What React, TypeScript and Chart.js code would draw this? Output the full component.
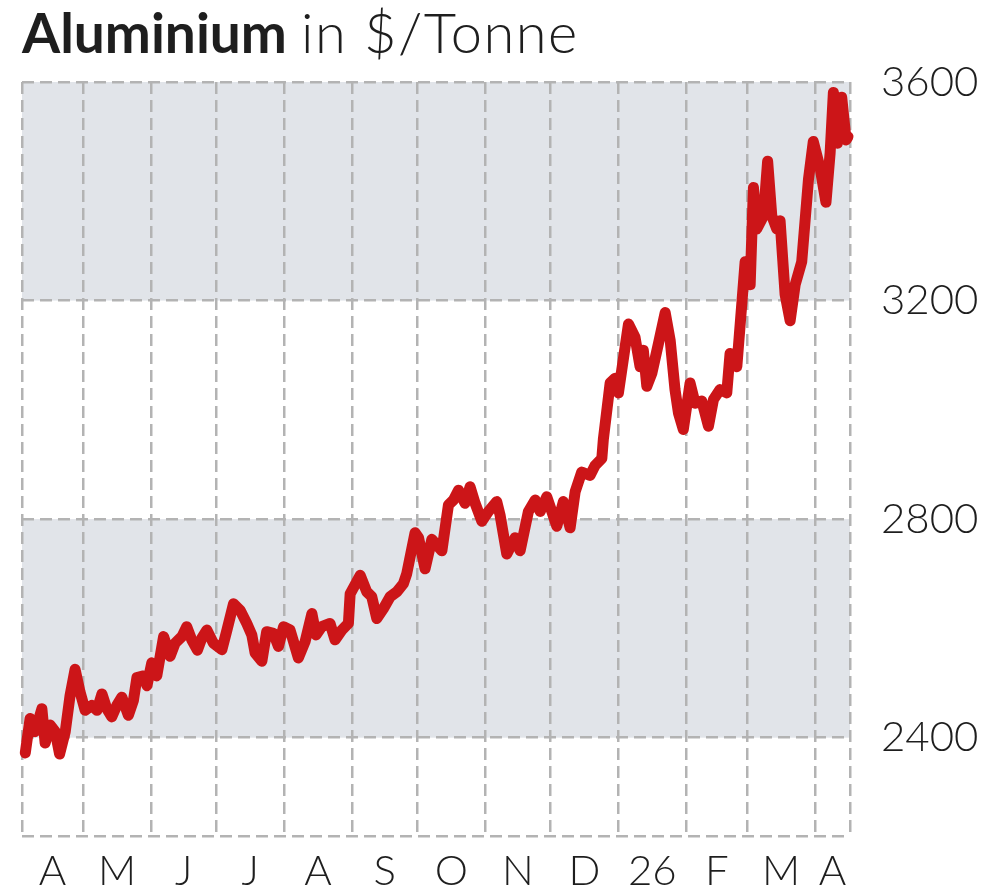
import React, { useEffect, useRef } from 'react';
import { Chart, registerables } from 'chart.js';

Chart.register(...registerables);

// x = days since 1 Apr 2025
const days = [
  3.5, 5.7, 8, 11.1, 12.6, 14.9, 17.2, 19.2, 21.8, 24, 26.3, 28.6, 30.9, 34, 36.3, 38.6,
  40.8, 43.1, 45.4, 47.7, 50.7, 53, 54.6, 57.6, 59.2, 61.4, 63.7, 66.8, 69.8, 72.1, 75.2,
  77.4, 79.7, 82.3, 84.3, 86.6, 89.6, 93.5, 95.8, 98.8, 101.9, 104.9, 107.2, 108.7, 111.8,
  114, 117.1, 119.4, 121.7, 124.7, 128.5, 131.6, 134.7, 136.6, 139.2, 143, 145.3, 148.4,
  151.4, 152.2, 156.8, 159.8, 162.1, 164.4, 167.4, 170.5, 173.6, 176.6, 178.1, 181.9,
  183.5, 186.5, 189.6, 194.2, 197.2, 199.5, 201.8, 204.8, 207.1, 209.4, 212.5, 215.5,
  219.3, 220.8, 223.9, 227.7, 230, 233.8, 236.9, 239.2, 242.2, 246.8, 249.8, 252.9,
  255.2, 258.2, 262, 264.3, 267.4, 268.1, 271.2, 273.5, 275, 279.6, 282.6, 284.9, 286.4,
  288, 290.3, 293.3, 296.4, 298.7, 300.9, 302.5, 304.7, 307.8, 310.1, 313.2, 316.2,
  318.5, 321.5, 324.6, 326.1, 329.2, 333, 335.3, 336.8, 338.3, 341.4, 343.3, 345.2,
  347.5, 349, 351.3, 353.6, 355.9, 358.9, 362, 364.2, 367.3, 370, 371.9, 373.4, 375.2,
  377.2, 379.2, 380.1,
];

const prices = [
  2372, 2435, 2411, 2453, 2390, 2423, 2411, 2370, 2411, 2477, 2525, 2483, 2450, 2459, 2450, 2480,
  2453, 2438, 2459, 2474, 2441, 2468, 2510, 2513, 2495, 2537, 2513, 2585, 2549, 2573, 2585,
  2603, 2579, 2560, 2582, 2597, 2573, 2561, 2597, 2645, 2633, 2609, 2588, 2555, 2540,
  2594, 2591, 2567, 2603, 2597, 2546, 2576, 2627, 2588, 2603, 2609, 2579, 2597,
  2609, 2663, 2697, 2667, 2658, 2618, 2636, 2658, 2667, 2682, 2700, 2775,
  2766, 2709, 2763, 2742, 2826, 2835, 2853, 2829, 2859, 2829, 2796, 2814,
  2832, 2808, 2736, 2766, 2742, 2814, 2835, 2814, 2841, 2787, 2832, 2784,
  2850, 2886, 2880, 2898, 2911, 2946, 3049, 3058, 3031, 3157, 3133, 3079, 3109,
  3043, 3067, 3121, 3178, 3127, 3037, 2994, 2964, 3049, 3012, 3016, 2970,
  3019, 3037, 3031, 3103, 3079, 3271, 3229, 3407, 3331, 3355, 3455, 3355,
  3331, 3346, 3211, 3163, 3229, 3271, 3422, 3491, 3443, 3380, 3470, 3581, 3488,
  3572, 3494, 3500,
];

const monthStarts = [30, 61, 91, 122, 153, 183, 214, 244, 275, 306, 334, 365];
const monthLabels = ['A', 'M', 'J', 'J', 'A', 'S', 'O', 'N', 'D', '26', 'F', 'M', 'A'];
const priceTicks = [2400, 2800, 3200, 3600];
const shadedBands = [[2400, 2800], [3200, 3600]];

const X_MIN = 2;
const X_MAX = 381;
const Y_MIN = 2220;
const Y_MAX = 3600;

const GRID = '#b3b3b3';
const TEXT = '#1e1e1e';
const FONT = 'Lato';

const bandPlugin = {
  id: 'bands',
  beforeDraw(chart: any) {
    const { ctx, chartArea, scales } = chart;
    const y = scales.y;
    ctx.save();
    ctx.fillStyle = '#e1e4e9';
    shadedBands.forEach(([lo, hi]) => {
      const top = y.getPixelForValue(hi);
      const bottom = y.getPixelForValue(lo);
      ctx.fillRect(chartArea.left, top, chartArea.right - chartArea.left, bottom - top);
    });
    ctx.restore();
  },
};

const App = () => {
  const ref = useRef<HTMLCanvasElement | null>(null);
  const chartRef = useRef<Chart | null>(null);

  useEffect(() => {
    document.body.style.margin = '0';
    const canvas = ref.current;
    if (!canvas) return;

    const edges = [X_MIN, ...monthStarts, X_MAX];
    const centers = edges.slice(0, -1).map((e, i) => (e + edges[i + 1]) / 2);

    chartRef.current = new Chart(canvas, {
      type: 'line',
      data: {
        datasets: [{
          data: days.map((d, i) => ({ x: d, y: prices[i] })),
          borderColor: '#cc1518',
          borderWidth: 11,
          pointRadius: 0,
          borderJoinStyle: 'round',
          borderCapStyle: 'round',
          tension: 0,
          clip: false,
          xAxisID: 'x',
        }],
      },
      options: {
        animation: false,
        responsive: true,
        maintainAspectRatio: false,
        layout: { padding: { left: 22, top: 82, right: 0, bottom: 0 } },
        plugins: { legend: { display: false }, tooltip: { enabled: false } },
        scales: {
          x: {
            type: 'linear',
            position: 'bottom',
            min: X_MIN,
            max: X_MAX,
            afterBuildTicks: (s: any) => { s.ticks = edges.map((v) => ({ value: v })); },
            afterFit: (s: any) => { s.height = 0; },
            ticks: { display: false },
            grid: { color: GRID, lineWidth: 2.5, drawTicks: false },
            border: { display: false, dash: [12, 6] },
          },
          x2: {
            type: 'linear',
            position: 'bottom',
            min: X_MIN,
            max: X_MAX,
            afterBuildTicks: (s: any) => { s.ticks = centers.map((v) => ({ value: v })); },
            afterFit: (s: any) => { s.height = 58; },
            ticks: {
              autoSkip: false,
              maxRotation: 0,
              padding: 10,
              color: TEXT,
              font: { family: FONT, size: 42, weight: '300' },
              callback: (_v: any, i: number) => monthLabels[i],
            },
            grid: { display: false, drawTicks: false },
            border: { display: false },
          },
          y: {
            position: 'right',
            min: Y_MIN,
            max: Y_MAX,
            afterBuildTicks: (s: any) => { s.ticks = [Y_MIN, ...priceTicks].map((v) => ({ value: v })); },
            afterFit: (s: any) => { s.width = 150; },
            ticks: {
              padding: 31,
              color: TEXT,
              font: { family: FONT, size: 42, weight: '300' },
              callback: (v: any) => (priceTicks.includes(v) ? String(v) : ''),
            },
            grid: { color: GRID, lineWidth: 2.5, drawTicks: false },
            border: { display: false, dash: [12, 6] },
          },
        },
      },
      plugins: [bandPlugin],
    } as any);

    return () => {
      chartRef.current?.destroy();
      chartRef.current = null;
    };
  }, []);

  return (
    <div style={{ position: 'relative', width: 1000, height: 894, background: '#fff' }}>
      <canvas ref={ref}></canvas>
      <div
        style={{
          position: 'absolute',
          left: 22,
          top: 4,
          fontFamily: FONT,
          fontSize: 55,
          lineHeight: '55px',
          color: TEXT,
          whiteSpace: 'nowrap',
        }}
      >
        <span style={{ fontWeight: 700 }}>Aluminium</span>{' '}
        <span style={{ fontWeight: 300, fontSize: 56, letterSpacing: '1.5px' }}>in $/Tonne</span>
      </div>
    </div>
  );
};

export default App;
